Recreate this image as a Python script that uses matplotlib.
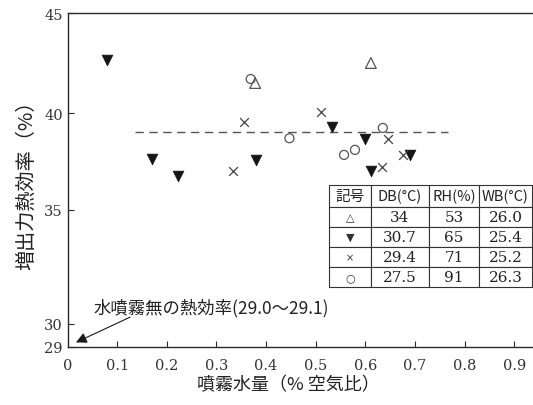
import numpy as np
import matplotlib
matplotlib.use("Agg")
import matplotlib.pyplot as plt

plt.rcParams['font.family'] = ['DejaVu Serif']

# ---- data ----
tri_open_x = [0.378, 0.611]
tri_open_y = [41.5, 42.5]

tri_fill_x = [0.079, 0.170, 0.223, 0.380, 0.532, 0.599, 0.611, 0.690]
tri_fill_y = [42.65, 37.63, 36.77, 37.58, 39.26, 38.66, 37.0, 37.84]

cross_x = [0.356, 0.334, 0.511, 0.645, 0.676, 0.633]
cross_y = [39.55, 37.03, 40.07, 38.66, 37.84, 37.23]

circ_x = [0.369, 0.447, 0.557, 0.579, 0.635]
circ_y = [41.7, 38.7, 37.84, 38.1, 39.23]

mean_line_x = [0.136, 0.766]
mean_line_y = 39.0

xticks = [0, 0.1, 0.2, 0.3, 0.4, 0.5, 0.6, 0.7, 0.8, 0.9]
xtick_labels = ['0', '0.1', '0.2', '0.3', '0.4', '0.5', '0.6', '0.7', '0.8', '0.9']
yticks = [29, 30, 35, 40, 45]

table_header = ['記号', 'DB(°C)', 'RH(%)', 'WB(°C)']
table_symbols = ['△', '▼', '×', '○']
table_db = ['34', '30.7', '29.4', '27.5']
table_rh = ['53', '65', '71', '91']
table_wb = ['26.0', '25.4', '25.2', '26.3']

note_text = '水噴霧無の熱効率(29.0〜29.1)'
xlabel = '噴霧水量（% 空気比）'
ylabel = '増出力熱効率（%）'

# broken (piecewise) y scale
scale_vals = [29, 30, 35, 40, 45]
scale_pos = [0, 23, 137, 234, 334]


def fwd(y):
    return np.interp(np.asarray(y, dtype=float), scale_vals, scale_pos)


def inv(p):
    return np.interp(np.asarray(p, dtype=float), scale_pos, scale_vals)


W, H = 533, 406
fig = plt.figure(figsize=(W / 100, H / 100), dpi=100)
fig.patch.set_facecolor('white')
ax = fig.add_axes([67.5 / W, (H - 348) / H, 1 - 67.5 / W, (348 - 14) / H])
ax.set_yscale('function', functions=(fwd, inv))
ax.set_xlim(0, (533 - 67.5) / 496.5)
ax.set_ylim(29, 45)

ink = '#2a2a2a'
for s in ['left', 'top', 'bottom']:
    ax.spines[s].set_color(ink)
    ax.spines[s].set_linewidth(1.0)
ax.spines['right'].set_visible(False)

ax.set_xticks(xticks)
ax.set_xticklabels(xtick_labels)
ax.set_yticks(yticks)
ax.set_yticklabels([str(v) for v in yticks])
ax.tick_params(axis='x', direction='in', length=4, width=0.8, color=ink,
               pad=8, labelsize=10.5, labelcolor='#333333')
ax.tick_params(axis='y', direction='in', length=4, width=0.8, color=ink,
               pad=3.5, labelsize=10.5, labelcolor='#333333')
ax.minorticks_off()

cjk = ['Noto Sans CJK JP', 'DejaVu Sans']

ax.set_xlabel(xlabel, family=cjk, fontsize=13, color='#222222')
ax.xaxis.set_label_coords((288 - 67.5) / 465.5, (348 - 385) / 334)
ax.xaxis.label.set_va('center')
ax.set_ylabel(ylabel, family=cjk, fontsize=14.5, color='#222222')
ax.yaxis.set_label_coords((27 - 67.5) / 465.5, (348 - 180) / 334)
ax.yaxis.label.set_va('center')

# mean dashed line
ax.plot(mean_line_x, [mean_line_y, mean_line_y], color='#555555', lw=1.0,
        dashes=(6, 4))

# markers
ax.scatter(tri_open_x, tri_open_y, marker='^', s=60, facecolors='none',
           edgecolors='#555555', linewidths=0.9, zorder=3)
ax.scatter(tri_fill_x, tri_fill_y, marker='v', s=60, color='#151515',
           linewidths=0.5, zorder=3)
ax.scatter(cross_x, cross_y, marker='x', s=40, color='#444444',
           linewidths=0.9, zorder=3)
ax.scatter(circ_x, circ_y, marker='o', s=42, facecolors='none',
           edgecolors='#555555', linewidths=0.9, zorder=3)

# annotation
ax.annotate('', xy=(0.017, 29.2), xytext=(0.126, 30.3),
            arrowprops=dict(arrowstyle='-|>', color='#1a1a1a', lw=0.8,
                            mutation_scale=16, shrinkA=0, shrinkB=0))
ax.text((94 - 67.5) / 496.5, 30.75, note_text, family=cjk, fontsize=12.5,
        color='#222222', ha='left', va='center')

# table
rows = [table_header] + [[a, b, c, d] for a, b, c, d in
                         zip(table_symbols, table_db, table_rh, table_wb)]
col_w = [42, 58, 50, 53]
x0 = (329 - 67.5) / 465.5
x1 = (532 - 67.5) / 465.5
y_top = (348 - 186) / 334
y_bot = (348 - 288) / 334
tbl = ax.table(cellText=rows, cellLoc='center',
               bbox=[x0, y_bot, x1 - x0, y_top - y_bot])
tbl.auto_set_font_size(False)
for (r, c), cell in tbl.get_celld().items():
    cell.set_width(col_w[c])
    cell.set_height(22 if r == 0 else 20)
    cell.set_edgecolor('#333333')
    cell.set_linewidth(0.8)
    cell.set_facecolor('white')
    t = cell.get_text()
    if r == 0:
        t.set_fontfamily(cjk)
        t.set_fontsize(10.5)
        t.set_color('#222222')
    elif c == 0:
        t.set_fontfamily(['DejaVu Sans'])
        t.set_fontsize(8 if table_symbols[r - 1] != '×' else 7)
        t.set_color('#333333')
    else:
        t.set_fontfamily(['DejaVu Serif'])
        t.set_fontsize(11)
        t.set_color('#222222')

fig.savefig('out.png', dpi=100, facecolor='white')
